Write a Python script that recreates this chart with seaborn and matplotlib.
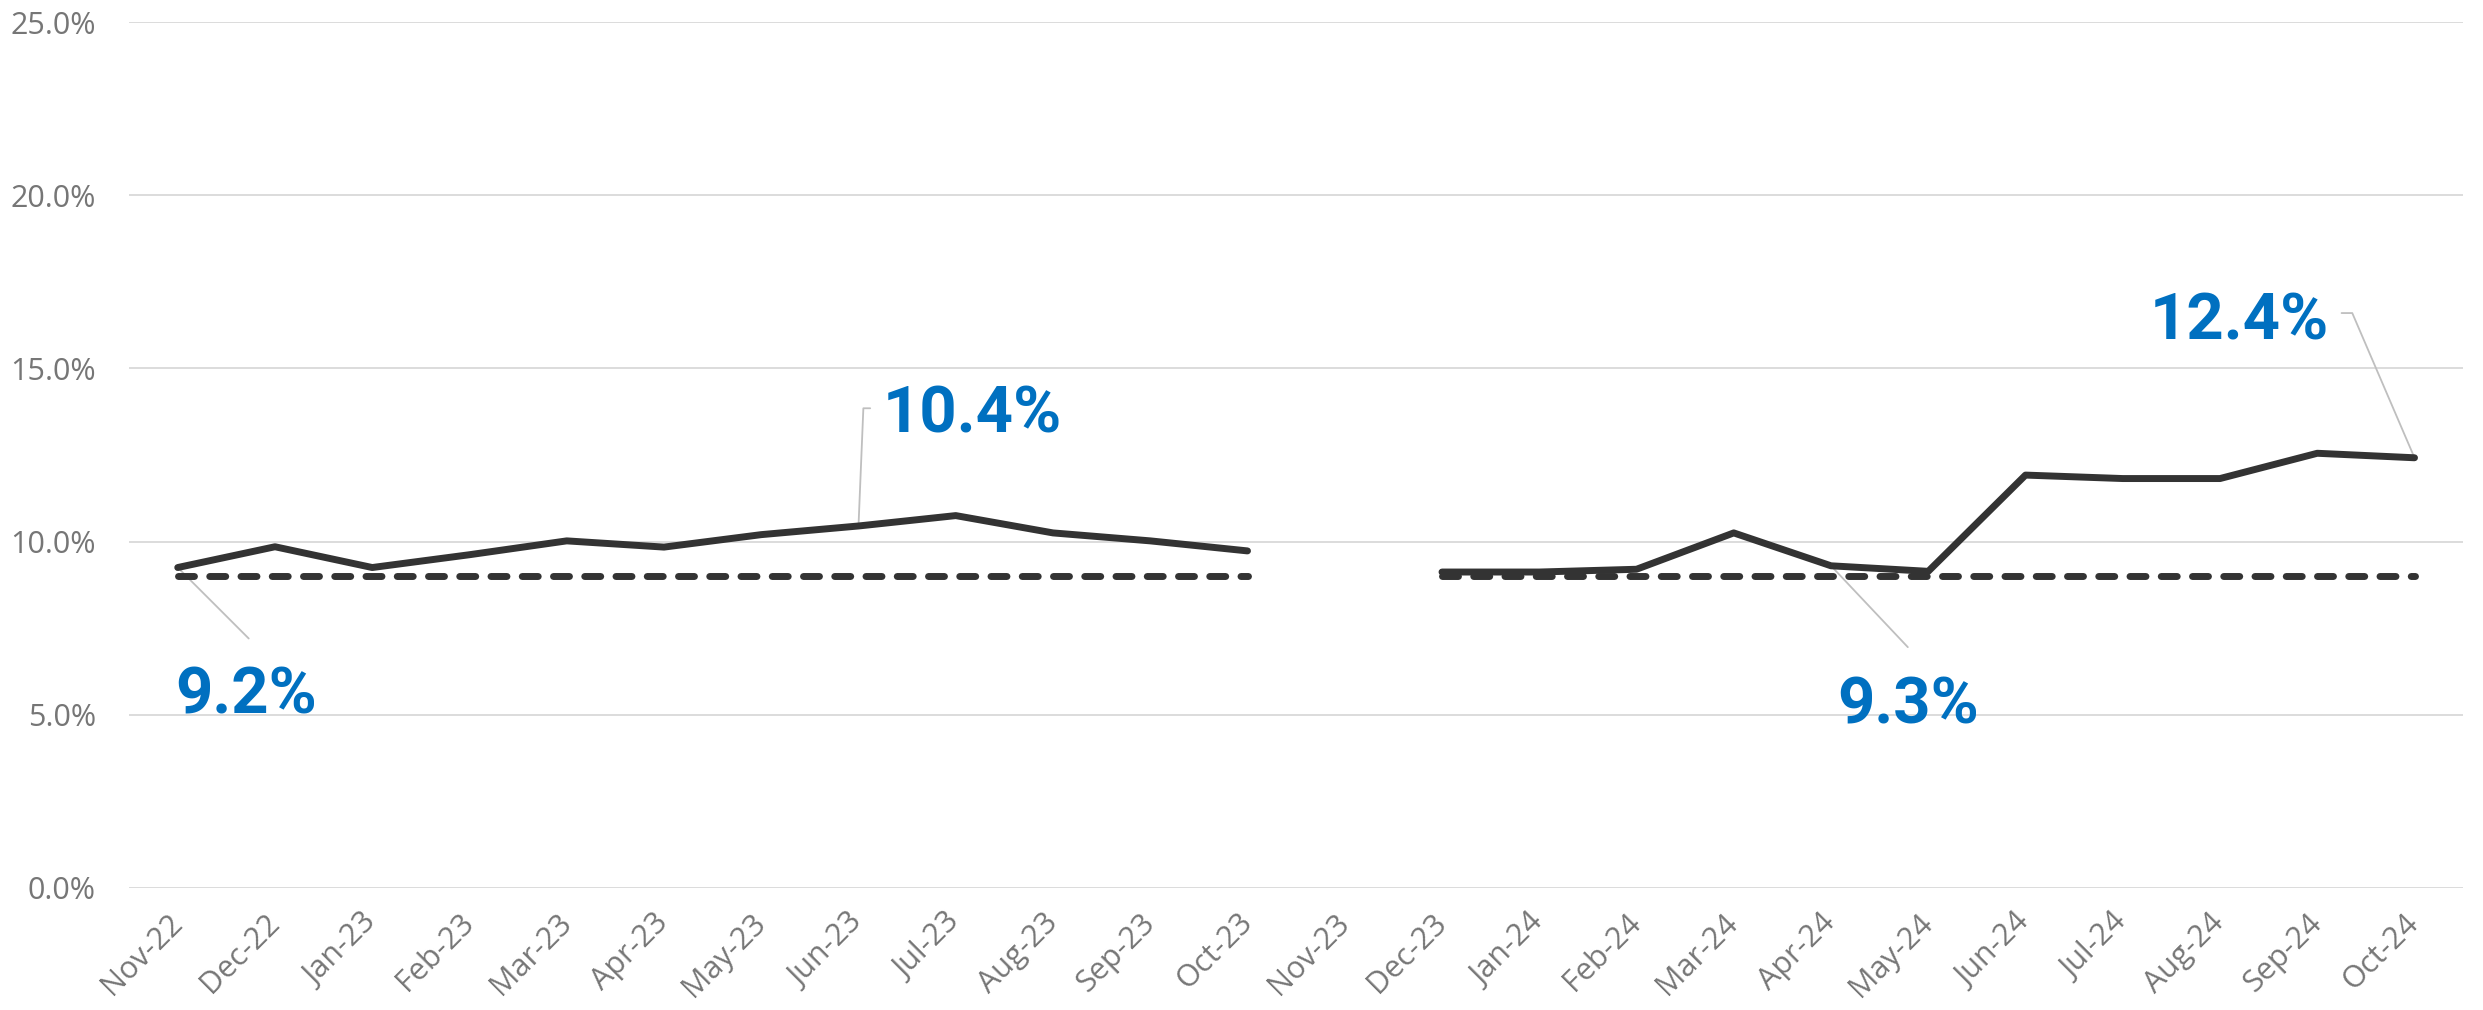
import numpy as np
import pandas as pd
import matplotlib
matplotlib.use("Agg")
import matplotlib.pyplot as plt
import seaborn as sns

# Dados
months = ["Nov-22", "Dec-22", "Jan-23", "Feb-23", "Mar-23", "Apr-23", "May-23", "Jun-23",
          "Jul-23", "Aug-23", "Sep-23", "Oct-23", "Nov-23", "Dec-23", "Jan-24", "Feb-24",
          "Mar-24", "Apr-24", "May-24", "Jun-24", "Jul-24", "Aug-24", "Sep-24", "Oct-24"]
rate = [9.25, 9.85, 9.25, 9.62, 10.02, 9.84, 10.2, 10.45, 10.75, 10.25, 10.02, 9.73,
        np.nan, 9.12, 9.12, 9.2, 10.25, 9.3, 9.14, 11.92, 11.82, 11.82, 12.55, 12.42]
baseline = [9.0] * 12 + [np.nan] + [9.0] * 11
segment = [1] * 12 + [0] + [2] * 11

# (indice do mes, rotulo, posicao do texto, ponta da linha guia, alinhamento)
callouts = [
    (0, "9.2%", (0.70, 5.55), [(0.73, 7.2)], "center"),
    (7, "10.4%", (7.25, 13.65), [(7.12, 13.85), (7.05, 13.85)], "left"),
    (17, "9.3%", (17.79, 5.25), [(17.79, 6.95)], "center"),
    (23, "12.4%", (22.12, 16.35), [(22.25, 16.6), (22.36, 16.6)], "right"),
]

df = pd.DataFrame({"x": np.arange(len(months)), "rate": rate,
                   "baseline": baseline, "segment": segment})
df = df[df["segment"] > 0]

sns.set_theme(style="white")
plt.rcParams["font.family"] = ["Open Sans", "DejaVu Sans"]

fig, ax = plt.subplots(figsize=(24.83, 10.10), dpi=100)
fig.subplots_adjust(left=0.052, right=0.992, bottom=0.121, top=0.978)

sns.lineplot(data=df, x="x", y="rate", units="segment", estimator=None,
             color="#333333", lw=5.0, ax=ax, solid_capstyle="round", zorder=3)
n_solid = len(ax.lines)
sns.lineplot(data=df, x="x", y="baseline", units="segment", estimator=None,
             color="#333333", lw=5.0, ax=ax, zorder=4)
for line in ax.lines[n_solid:]:
    line.set_dashes((2.3, 2.2))
    line.set_dash_capstyle("round")

# Rotulos destacados
for idx, label, pos, guide, ha in callouts:
    path = guide + [(idx, rate[idx])]
    xs = [p[0] for p in path]
    ys = [p[1] for p in path]
    ax.plot(xs, ys, color="#BFBFBF", lw=1.3, zorder=2)
    ax.text(pos[0], pos[1], label, ha=ha, va="center", color="#0070C0",
            fontsize=47, fontweight="bold", family=["Roboto", "DejaVu Sans"])

ax.set_xlim(-0.5, len(months) - 0.5)
ax.set_ylim(0, 25)
ax.set_yticks(np.arange(0, 26, 5))
ax.set_yticklabels([f"{v:.1f}%" for v in np.arange(0, 26, 5)])
ax.set_xticks(np.arange(len(months)))
ax.set_xticklabels(months, rotation=45, ha="right", va="center", rotation_mode="anchor")
ax.tick_params(axis="y", length=0, pad=24, labelsize=22, labelcolor="#767676")
ax.tick_params(axis="x", length=0, pad=22, labelsize=22, labelcolor="#767676")
ax.set_xlabel("")
ax.set_ylabel("")
ax.yaxis.grid(True, color="#D9D9D9", lw=1.3)
ax.xaxis.grid(False)
sns.despine(ax=ax, left=True, bottom=True)

plt.savefig("out.png", dpi=100)
plt.close()
